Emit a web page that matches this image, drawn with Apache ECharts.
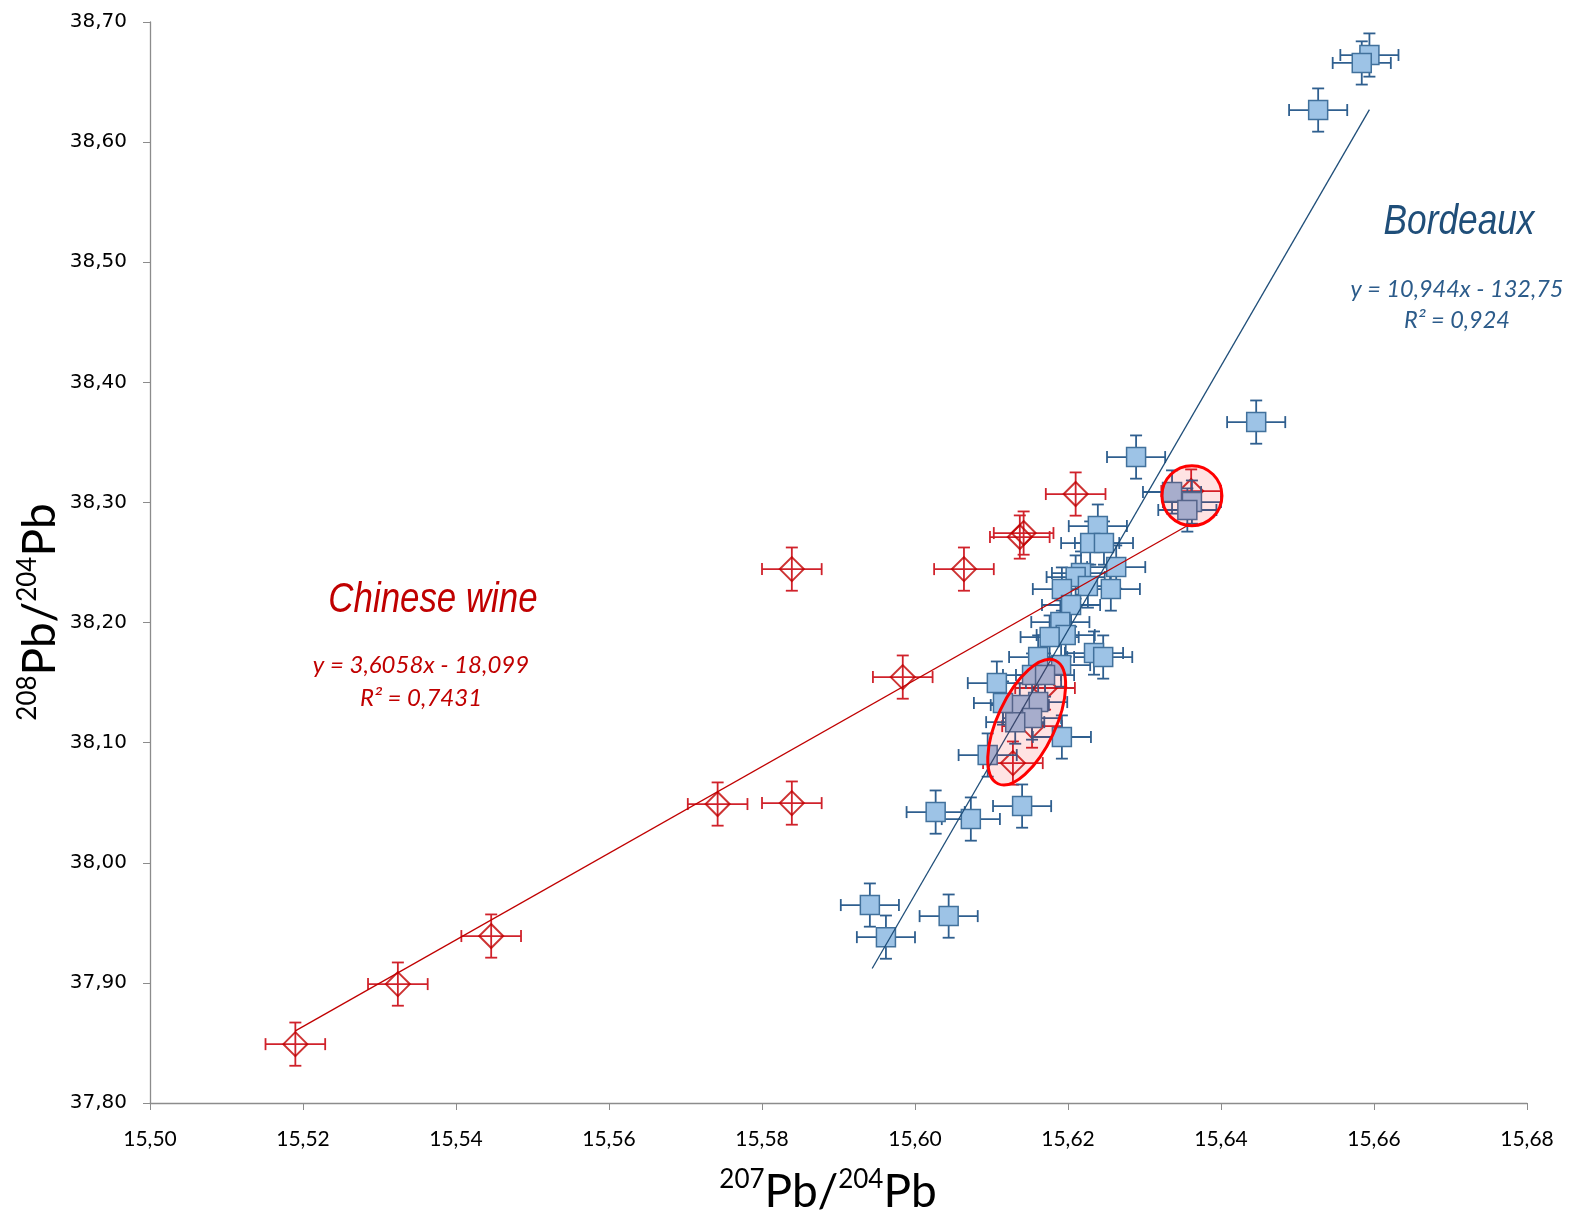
<!DOCTYPE html>
<html>
<head>
<meta charset="utf-8">
<script src="https://cdn.jsdelivr.net/npm/echarts@6/dist/echarts.min.js"></script>
<style>html,body{margin:0;padding:0;background:#fff}#c{width:1570px;height:1218px}</style>
</head>
<body>
<div id="c"></div>
<script>
// ---- Data ----
const xTicks = [15.50, 15.52, 15.54, 15.56, 15.58, 15.60, 15.62, 15.64, 15.66, 15.68];
const yTicks = [37.80, 37.90, 38.00, 38.10, 38.20, 38.30, 38.40, 38.50, 38.60, 38.70];

// Bordeaux 207Pb/204Pb and 208Pb/204Pb
const bordeauxX = [15.6594, 15.6584, 15.6527, 15.6446, 15.6289, 15.6336, 15.6362, 15.6356, 15.6239, 15.6229,
  15.6247, 15.6263, 15.6217, 15.6210, 15.6226, 15.6256, 15.6192, 15.6204, 15.6190, 15.6197,
  15.6176, 15.6234, 15.6246, 15.6161, 15.6191, 15.6107, 15.6153, 15.6170, 15.6161, 15.6137,
  15.6153, 15.6131, 15.6115, 15.6192, 15.6095, 15.6140, 15.6027, 15.6073, 15.5941, 15.5962, 15.6044];
const bordeauxY = [38.6725, 38.6659, 38.6267, 38.3669, 38.3378, 38.3087, 38.3003, 38.2937, 38.2803, 38.2662,
  38.2662, 38.2462, 38.2412, 38.2379, 38.2304, 38.2279, 38.2279, 38.2146, 38.2004, 38.1896,
  38.1879, 38.1746, 38.1713, 38.1713, 38.1646, 38.1496, 38.1563, 38.1563, 38.1338, 38.1313,
  38.1205, 38.1171, 38.1330, 38.1047, 38.0897, 38.0472, 38.0422, 38.0364, 37.9648, 37.9381, 37.9556];
const bordeauxXErr = 0.0038;
const bordeauxYErr = 0.018;

// Chinese wine
const chinaX = [15.5190, 15.5324, 15.5446, 15.5742, 15.5839, 15.5984, 15.5839, 15.6064, 15.6137, 15.6142,
  15.6210, 15.6361, 15.6128, 15.6153, 15.6170];
const chinaY = [37.8490, 37.8990, 37.9390, 38.0489, 38.0497, 38.1546, 38.2445, 38.2445, 38.2712, 38.2745,
  38.3070, 38.3095, 38.0830, 38.1138, 38.1455];
const chinaXErr = 0.0039;
const chinaYErr = 0.018;

// Trend line end points
const bordeauxTrendX = [15.5944, 15.6594];
const bordeauxTrendY = [37.912, 38.627];
const chinaTrendX = [15.5190, 15.6357];
const chinaTrendY = [37.860, 38.281];

// Highlight centres (data units)
const ellipseCentre = [15.6146, 38.1171];
const circleCentre = [15.6362, 38.3056];

// ---- Chart ----
const fmt = v => v.toFixed(2).replace('.', ',');
const zip = (xs, ys) => xs.map((x, i) => [x, ys[i]]);
const errData = (xs, ys, xe, ye) => xs.map((x, i) => [x, ys[i], xe, ye]);

function errRender(color) {
  return function (params, api) {
    const x = api.value(0), y = api.value(1), xe = api.value(2), ye = api.value(3);
    const l = api.coord([x - xe, y]), r = api.coord([x + xe, y]);
    const t = api.coord([x, y + ye]), b = api.coord([x, y - ye]);
    const c = 6;
    const st = {stroke: color, lineWidth: 1.8};
    const mk = (x1, y1, x2, y2) => ({type: 'line', shape: {x1, y1, x2, y2}, style: st});
    return {type: 'group', children: [
      mk(l[0], l[1], r[0], r[1]), mk(t[0], t[1], b[0], b[1]),
      mk(l[0], l[1] - c, l[0], l[1] + c), mk(r[0], r[1] - c, r[0], r[1] + c),
      mk(t[0] - c, t[1], t[0] + c, t[1]), mk(b[0] - c, b[1], b[0] + c, b[1])
    ]};
  };
}

const chart = echarts.init(document.getElementById('c'), null, {renderer: 'canvas'});
const axisGrey = '#8c8c8c';
chart.setOption({
  animation: false,
  backgroundColor: '#fff',
  grid: {left: 150, right: 43, top: 22, bottom: 115, containLabel: false},
  xAxis: {
    type: 'value', min: 15.50, max: 15.68, interval: 0.02,
    axisLine: {show: true, lineStyle: {color: axisGrey, width: 1.3}},
    axisTick: {show: true, inside: false, length: 7, lineStyle: {color: axisGrey}},
    splitLine: {show: false},
    axisLabel: {margin: 26, color: '#000', fontSize: 21, fontFamily: 'Lato', formatter: fmt}
  },
  yAxis: {
    type: 'value', min: 37.80, max: 38.70, interval: 0.10,
    axisLine: {show: true, lineStyle: {color: axisGrey, width: 1.3}},
    axisTick: {show: true, inside: false, length: 7, lineStyle: {color: axisGrey}},
    splitLine: {show: false},
    axisLabel: {margin: 23, color: '#000', fontSize: 20, fontFamily: 'DejaVu Sans', formatter: fmt}
  },
  series: [
    {type: 'custom', name: 'chinaErr', renderItem: errRender('#d0222b'),
     data: errData(chinaX, chinaY, chinaXErr, chinaYErr), z: 2, silent: true},
    {type: 'scatter', name: 'Chinese wine', data: zip(chinaX, chinaY), symbol: 'diamond', symbolSize: [24, 24],
     itemStyle: {color: 'rgba(0,0,0,0)', borderColor: '#c00000', borderWidth: 2}, z: 3},
    {type: 'custom', name: 'bordeauxErr', renderItem: errRender('#2f5f8f'),
     data: errData(bordeauxX, bordeauxY, bordeauxXErr, bordeauxYErr), z: 4, silent: true},
    {type: 'scatter', name: 'Bordeaux', data: zip(bordeauxX, bordeauxY), symbol: 'rect', symbolSize: 19,
     itemStyle: {color: '#9dc3e6', borderColor: '#41719c', borderWidth: 1.5, opacity: 1}, z: 5},
    {type: 'line', data: zip(chinaTrendX, chinaTrendY), symbol: 'none', z: 6,
     lineStyle: {color: '#c00000', width: 1.3}},
    {type: 'line', data: zip(bordeauxTrendX, bordeauxTrendY), symbol: 'none', z: 6,
     lineStyle: {color: '#1f4e79', width: 1.3}}
  ]
});

const ec = chart.convertToPixel({gridIndex: 0}, ellipseCentre);
const cc = chart.convertToPixel({gridIndex: 0}, circleCentre);
const pink = 'rgba(255,0,0,0.11)';
const supStyle = {fontSize: 26, fontFamily: 'Lato', verticalAlign: 'top', lineHeight: 26, fill: '#000'};
const mainStyle = {fontSize: 46, fontFamily: 'Lato', lineHeight: 50, fill: '#000'};
const labelFont = 'Liberation Sans';

chart.setOption({
  graphic: [
    {type: 'ellipse', x: ec[0], y: ec[1], rotation: 65 * Math.PI / 180, z: 100,
     shape: {cx: 0, cy: 0, rx: 68, ry: 29},
     style: {fill: pink, stroke: '#ff0000', lineWidth: 3}},
    {type: 'circle', x: cc[0], y: cc[1], z: 100, shape: {cx: 0, cy: 0, r: 30},
     style: {fill: pink, stroke: '#ff0000', lineWidth: 3}},
    {type: 'text', x: 1459, y: 222, z: 100, scaleX: 0.84, style: {text: 'Bordeaux', fill: '#1f4e79', fontSize: 42,
      fontStyle: 'italic', fontFamily: labelFont, align: 'center', verticalAlign: 'middle'}},
    {type: 'text', x: 1457, y: 289, z: 100, style: {text: 'y = 10,944x - 132,75', fill: '#2b5b8a', fontSize: 23.5,
      fontStyle: 'italic', fontFamily: 'Lato', align: 'center', verticalAlign: 'middle'}},
    {type: 'text', x: 1457, y: 320, z: 100, style: {text: 'R² = 0,924', fill: '#2b5b8a', fontSize: 23.5,
      fontStyle: 'italic', fontFamily: 'Lato', align: 'center', verticalAlign: 'middle'}},
    {type: 'text', x: 433, y: 600, z: 100, scaleX: 0.83, style: {text: 'Chinese wine', fill: '#c00000', fontSize: 42,
      fontStyle: 'italic', fontFamily: labelFont, align: 'center', verticalAlign: 'middle'}},
    {type: 'text', x: 421, y: 665, z: 100, style: {text: 'y = 3,6058x - 18,099', fill: '#c00000', fontSize: 24,
      fontStyle: 'italic', fontFamily: 'Lato', align: 'center', verticalAlign: 'middle'}},
    {type: 'text', x: 421, y: 698, z: 100, style: {text: 'R² = 0,7431', fill: '#c00000', fontSize: 24,
      fontStyle: 'italic', fontFamily: 'Lato', align: 'center', verticalAlign: 'middle'}},
    {type: 'text', x: 828, y: 1192, z: 100, style: {
      text: '{s|207}{m|Pb/}{s|204}{m|Pb}', align: 'center', verticalAlign: 'middle',
      rich: {s: supStyle, m: mainStyle}}},
    {type: 'text', x: 40, y: 612, z: 100, rotation: Math.PI / 2, style: {
      text: '{s|208}{m|Pb/}{s|204}{m|Pb}', align: 'center', verticalAlign: 'middle',
      rich: {s: supStyle, m: mainStyle}}}
  ]
});
</script>
</body>
</html>
